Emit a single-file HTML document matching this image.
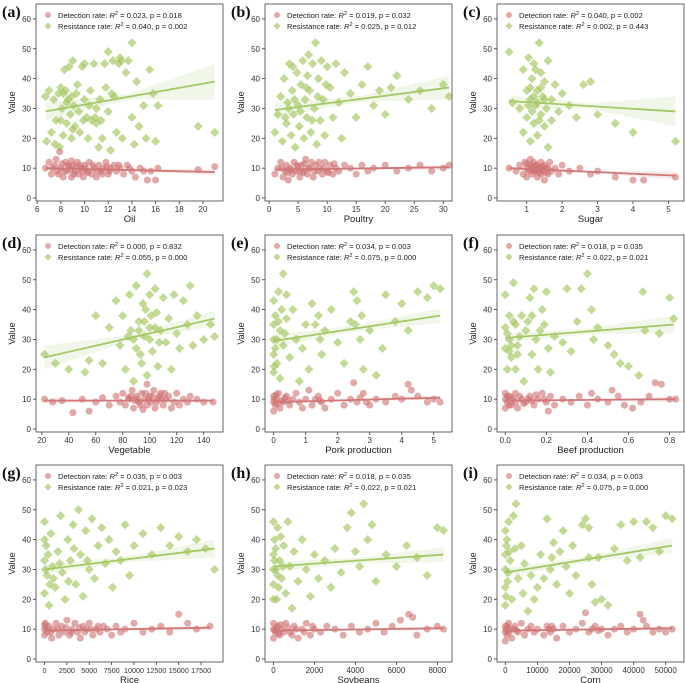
<!DOCTYPE html>
<html><head><meta charset="utf-8">
<style>
html,body{margin:0;padding:0;background:#fff;}
svg{display:block;font-family:"Liberation Sans",sans-serif;}
</style></head>
<body>
<svg id="chart" width="685" height="683" viewBox="0 0 685 683" xmlns="http://www.w3.org/2000/svg"></svg>
<script>
// ---- Data ----
const panelLetters = ["(a)","(b)","(c)","(d)","(e)","(f)","(g)","(h)","(i)"];
const xLabels = ["Oil","Poultry","Sugar","Vegetable","Pork production","Beef production","Rice","Soybeans","Corn"];
const xLims = [[5.9,21.7],[-0.7,31.5],[0.16,5.44],[15.7,154.3],[-0.27,5.57],[-0.04,0.87],[-950,19950],[-415,8715],[-2600,55700]];
const xTicks = [[6,8,10,12,14,16,18,20],[0,5,10,15,20,25,30],[1,2,3,4,5],[20,40,60,80,100,120,140],[0,1,2,3,4,5],[0,0.2,0.4,0.6,0.8],[0,2500,5000,7500,10000,12500,15000,17500],[0,2000,4000,6000,8000],[0,10000,20000,30000,40000,50000]];
const xTickLabels = [["6","8","10","12","14","16","18","20"],["0","5","10","15","20","25","30"],["1","2","3","4","5"],["20","40","60","80","100","120","140"],["0","1","2","3","4","5"],["0.0","0.2","0.4","0.6","0.8"],["0","2500","5000","7500","10000","12500","15000","17500"],["0","2000","4000","6000","8000"],["0","10000","20000","30000","40000","50000"]];
const yTicks = [0,10,20,30,40,50,60];
const detStats = [["0.023","0.018"],["0.019","0.032"],["0.040","0.002"],["0.000","0.832"],["0.034","0.003"],["0.018","0.035"],["0.035","0.003"],["0.018","0.035"],["0.034","0.003"]];
const resStats = [["0.040","0.002"],["0.025","0.012"],["0.002","0.443"],["0.055","0.000"],["0.075","0.000"],["0.022","0.021"],["0.021","0.023"],["0.022","0.021"],["0.075","0.000"]];
const detFit = [[10,8.7],[9.5,10.3],[10,7.5],[9.5,9.5],[9,10.5],[9.5,10],[9.5,10.5],[9.5,10.3],[9.5,10.3]];
const resFit = [[29,39],[29.5,37],[32.5,29],[24,37],[29.5,38],[30.5,35],[30,37],[31,35],[29,38]];
const detBand = [[0.6,0.3,1.0],[0.5,0.3,0.9],[0.6,0.3,1.4],[0.8,0.3,0.6],[0.5,0.3,0.7],[0.4,0.3,0.9],[0.4,0.3,0.9],[0.4,0.3,0.8],[0.4,0.3,0.7]];
const resBand = [[3,1,6],[2.5,1,4],[2,1,5],[4,1,2.5],[2,1,2.5],[1.5,1,3],[1.5,1,3],[1.5,1,2.5],[1.5,1,2.5]];

const detA = [[6.7,10],[7,12],[7.2,8],[7.5,11],[7.7,9],[7.9,15.5],[8,10],[8.2,7],[8.4,12],[8.5,9],[8.7,10.5],[8.9,7],[9,11],[9.2,9],[9.4,12],[9.5,8],[9.7,10],[9.9,7],[10,11],[10.2,9],[10.4,12],[10.6,8],[10.8,10],[11,7],[11.2,11],[11.4,9],[11.6,10],[11.8,12],[12,8],[12.2,10],[12.5,11],[12.7,9],[13,10],[13.3,8],[13.6,11],[14,9],[14.3,7],[14.7,10],[15,9],[15.3,6],[15.6,9],[16,6],[16.2,10],[19.6,9.5],[21,10.5],[8.3,9],[9.1,8],[10.1,10],[11.1,9],[8.6,11],[7.3,10],[7.8,8],[8.1,11.5],[8.8,9.5],[9.3,10.5],[9.6,11],[10.3,8.5],[10.7,11],[11.5,8],[12.1,9],[12.9,11],[13.8,10],[7.6,13],[8.9,12.5],[9.8,9],[11.9,10.5]];
const resA = [[6.7,34],[6.8,19],[7,36],[7.2,22],[7.4,33],[7.5,18],[7.6,26],[7.8,35],[7.9,17],[8,37],[8.1,30],[8.2,21],[8.3,43],[8.4,36],[8.5,25],[8.6,33],[8.7,44],[8.8,28],[8.9,20],[9,46],[9.1,31],[9.2,24],[9.3,35],[9.5,29],[9.6,22],[9.8,44],[10,45],[10,33],[10.2,27],[10.3,20],[10.5,36],[10.6,26],[10.8,45],[11,25],[11,30],[11.2,17],[11.3,33],[11.5,20],[11.7,45],[11.8,37],[12,49],[12,29],[12.2,16],[12.4,46],[12.5,34],[12.7,22],[12.9,45],[13,47],[13.2,20],[13.5,42],[13.7,46],[14,52],[14,27],[14.2,18],[14.4,39],[14.6,24],[15,31],[15.2,20],[15.5,43],[15.8,35],[16,19],[16.2,31],[19.6,24],[21,22],[8.2,35],[8.5,32],[8.9,34],[9.4,38],[9.9,26],[10.4,31],[10.9,27],[11.4,26],[12.3,35],[13.1,46],[8.0,26],[9.0,23]];
const detB = [[1,8],[1.5,10],[2,12],[2.4,7],[2.8,9],[3,11],[3.3,6],[3.6,10],[4,8],[4.3,12],[4.6,9],[5,10.5],[5.3,7],[5.6,11],[6,9],[6.3,13],[6.6,8],[7,10],[7.3,12],[7.6,7],[8,11],[8.4,9],[8.8,10],[9.2,8],[9.6,12],[10,9],[10.5,11],[11,8],[11.5,10],[12,9],[13,11],[14,10],[15,8],[16,11],[17,9],[18,10],[20,11],[22,9],[24,10],[26,11],[28,9],[30,10],[31,11],[2.2,10],[3.8,9.5],[4.8,11],[5.8,8.5],[6.8,10],[7.8,9],[8.6,12],[9.4,10],[10.2,8.5],[11.2,11.5],[3.2,8.5],[5.1,9],[6.1,11.5]];
const resB = [[1,22],[1.5,28],[2,34],[2.3,19],[2.6,40],[3,25],[3.2,32],[3.5,45],[3.8,21],[4,36],[4.2,28],[4.5,17],[4.8,42],[5,31],[5.2,24],[5.5,38],[5.8,46],[6,20],[6.2,33],[6.5,27],[6.8,48],[7,36],[7.2,22],[7.5,45],[7.8,30],[8,52],[8.2,18],[8.5,40],[8.8,26],[9,46],[9.3,33],[9.6,21],[10,44],[10.5,37],[11,27],[11.5,45],[12,32],[12.5,20],[13,42],[14,35],[15,27],[16,38],[17,44],[18,31],[19,36],[20,28],[21,37],[22,41],[24,33],[26,36],[28,30],[30,38],[31,34],[3.4,30],[4.4,33],[5.4,29],[6.4,37],[7.4,26],[8.4,34],[9.8,38],[4.1,44],[6.6,41],[2.8,27]];
const detC = [[0.5,10],[0.7,9],[0.8,11],[0.9,8],[0.95,12],[1,10],[1,7],[1.05,9],[1.1,11],[1.1,13],[1.15,8],[1.2,10],[1.2,12],[1.25,9],[1.3,7],[1.3,11],[1.35,10],[1.4,8],[1.4,12],[1.45,9],[1.5,11],[1.5,6],[1.55,10],[1.6,8],[1.65,12],[1.7,9],[1.8,10],[1.9,8],[2,11],[2.2,9],[2.5,10],[2.8,8],[3,9],[3.5,7],[4,6],[4.3,6],[5.2,7],[1.0,11.5],[1.15,10.5],[1.25,11],[1.35,8.5],[1.45,10.5],[1.55,8.5],[1.2,9],[1.3,9.5],[1.1,9.5],[1.4,10],[1.6,10]];
const resC = [[0.5,49],[0.6,32],[0.8,30],[0.9,43],[0.9,22],[1,36],[1,27],[1.05,47],[1.1,33],[1.1,19],[1.15,40],[1.2,25],[1.2,45],[1.25,31],[1.3,36],[1.3,21],[1.35,52],[1.4,28],[1.4,42],[1.45,34],[1.5,24],[1.5,39],[1.55,30],[1.6,46],[1.6,17],[1.7,33],[1.7,26],[1.8,38],[1.9,29],[2,35],[2.2,31],[2.4,27],[2.6,38],[2.8,39],[3,28],[3.5,25],[4,22],[5.2,19],[1.1,37],[1.2,34],[1.3,32],[1.4,37],[1.25,43],[1.15,29],[1.35,26],[1.5,33],[1.05,31]];
const detD = [[22,10],[28,9],[35,9.5],[43,5.5],[50,10],[55,6],[60,9],[65,10.5],[70,8],[75,11],[78,9],[80,12],[82,8],[85,10],[87,13],[88,7],[90,11],[92,9],[94,12],[95,6.5],[96,10],[98,15],[98,8],[100,11],[101,9],[103,13],[104,7],[106,10],[108,12],[110,8],[112,10],[114,11],[116,7],[118,9],[120,12],[122,8],[125,10],[128,9],[130,11],[135,10],[140,9],[147,9],[86,11],[91,10],[93,8],[97,12],[99,10],[102,11],[105,9],[107,11],[109,10],[111,12],[89,9.5],[84,10.5]];
const resD = [[22,25],[30,22],[40,20],[52,19],[55,23],[60,38],[65,22],[70,34],[75,43],[78,28],[80,38],[82,20],[85,45],[86,33],[88,16],[90,48],[90,27],[92,36],[94,22],[95,42],[96,31],[98,52],[98,18],[100,45],[100,34],[102,26],[104,47],[105,39],[106,21],[108,33],[110,44],[112,29],[114,37],[116,20],[118,45],[120,32],[122,27],[125,43],[128,35],[130,48],[132,28],[135,38],[140,30],[145,35],[148,31],[88,30],[92,33],[96,36],[100,30],[104,34],[93,25],[97,40],[101,38],[107,29],[84,31]];
const detE = [[0,6],[0,9],[0,11],[0.05,8],[0.1,10],[0.15,12],[0.2,7],[0.3,9],[0.4,11],[0.5,8],[0.6,10],[0.7,12],[0.8,9],[0.9,7],[1,10],[1.1,13],[1.2,8],[1.4,11],[1.5,9],[1.6,7],[1.8,10],[2,12],[2.2,8],[2.4,10],[2.5,15.5],[2.6,9],[2.8,12],[3,8],[3.2,10],[3.5,9],[3.8,11],[4,10],[4.2,15],[4.3,13],[4.5,11],[4.8,9],[5,10],[5.2,9],[0.02,10],[0.08,11.5],[0.25,9.5],[0.35,10.5],[1.3,10],[1.45,9.5],[2.7,10.5],[2.9,9],[0.12,8.5],[0.45,9.5]];
const resE = [[0,43],[0,35],[0,25],[0,19],[0.05,38],[0.1,30],[0.1,22],[0.15,46],[0.2,33],[0.2,17],[0.3,52],[0.3,28],[0.4,45],[0.4,37],[0.5,24],[0.6,40],[0.7,30],[0.8,16],[0.9,27],[1,35],[1.1,20],[1.2,42],[1.4,38],[1.5,25],[1.6,33],[1.8,40],[2,29],[2.2,22],[2.4,36],[2.5,46],[2.6,43],[2.7,30],[2.8,20],[3,33],[3.2,18],[3.4,27],[3.5,45],[3.8,36],[4,42],[4.2,33],[4.5,46],[4.8,44],[5,48],[5.2,47],[0,30],[0.05,27],[0.15,36],[0.25,40],[0.35,32],[1.3,35],[1.45,30],[2.55,35],[2.75,38],[0.02,21]];
const detF = [[0,7],[0,10],[0,12],[0.01,9],[0.02,11],[0.03,8],[0.04,10],[0.05,12],[0.06,7],[0.08,10],[0.1,9],[0.12,11],[0.14,8],[0.16,10],[0.18,12],[0.2,9],[0.21,6],[0.22,11],[0.24,8],[0.28,10],[0.32,9],[0.36,11],[0.4,8],[0.42,12],[0.45,10],[0.5,9],[0.52,13],[0.55,11],[0.58,8],[0.62,7],[0.66,9],[0.7,11],[0.73,15.5],[0.76,15],[0.8,10],[0.83,10],[0.01,11],[0.03,10.5],[0.05,9],[0.07,11],[0.09,8.5],[0.11,10],[0.13,9.5],[0.15,11.5],[0.19,10],[0.02,8]];
const resF = [[0,45],[0,34],[0,27],[0.01,20],[0.02,38],[0.02,30],[0.03,24],[0.04,49],[0.05,35],[0.05,20],[0.06,28],[0.08,38],[0.09,16],[0.1,33],[0.12,44],[0.13,25],[0.14,47],[0.15,30],[0.16,20],[0.18,40],[0.19,35],[0.2,46],[0.21,27],[0.22,19],[0.24,31],[0.28,29],[0.3,47],[0.32,26],[0.35,36],[0.37,47],[0.4,52],[0.42,40],[0.43,30],[0.45,34],[0.5,28],[0.53,25],[0.56,22],[0.6,21],[0.65,18],[0.67,46],[0.68,33],[0.75,32],[0.8,44],[0.82,37],[0.01,32],[0.03,28],[0.04,36],[0.06,25],[0.07,31],[0.11,36],[0.13,38],[0.17,33],[0.02,26]];
const detG = [[0,10],[0,8],[100,12],[300,9],[500,11],[800,7],[1000,10],[1300,12],[1600,8],[1900,11],[2200,9],[2500,13],[2800,8],[3100,10],[3400,12],[3700,9],[4000,7],[4300,11],[4700,10],[5000,12],[5400,8],[5800,10],[6200,9],[6600,11],[7000,10],[7500,8],[8000,11],[8500,9],[9000,10],[10000,12],[11000,9],[12000,10],[13000,11],[14000,9],[15000,15],[16000,12],[17000,10],[18500,11],[200,10.5],[700,9],[1500,10],[2400,10.5],[3000,9],[3900,10.5],[4500,9],[5200,10],[6000,11],[0,11.5]];
const resG = [[0,46],[0,33],[0,22],[200,38],[300,28],[500,18],[700,42],[900,31],[1200,24],[1500,36],[1800,48],[2000,29],[2300,20],[2600,40],[2900,33],[3200,45],[3500,25],[3800,50],[4000,35],[4300,21],[4600,43],[5000,30],[5300,47],[5600,27],[6000,38],[6400,44],[6800,32],[7200,40],[7600,24],[8000,36],[8500,33],[9000,45],[9500,28],[10000,38],[11000,42],[12000,35],[13000,44],[14000,38],[15000,41],[16000,36],[17000,40],[18000,37],[19000,30],[100,30],[400,35],[1000,27],[1700,32],[2700,26],[3300,37],[4800,33],[0,40],[600,25]];
const detH = [[0,7],[0,10],[0,12],[100,9],[200,11],[300,8],[400,10],[600,12],[800,9],[1000,11],[1200,7],[1400,10],[1600,12],[1800,8],[2000,10],[2300,9],[2600,11],[3000,10],[3400,8],[3800,11],[4200,9],[4600,10],[5000,12],[5400,9],[5800,11],[6200,13],[6600,15],[6800,14],[7000,8],[7500,10],[8000,11],[8300,10],[50,9.5],[150,10.5],[250,8.5],[350,11.5],[500,9],[700,10.5],[900,8],[1100,10],[1500,9],[1900,11]];
const resH = [[0,46],[0,35],[0,25],[50,40],[100,30],[150,20],[200,44],[300,33],[400,27],[500,38],[600,22],[700,46],[800,31],[900,17],[1000,36],[1200,26],[1400,40],[1600,30],[1800,21],[2000,35],[2200,27],[2500,33],[2800,24],[3000,37],[3300,29],[3600,44],[3800,49],[4000,36],[4200,31],[4400,52],[4600,40],[4800,45],[5000,26],[5500,35],[6000,31],[6500,38],[7000,34],[7500,28],[8000,44],[8300,43],[0,30],[50,33],[100,37],[200,28],[250,24],[350,41],[450,31],[0,20]];
const detI = [[0,6],[0,9],[0,11],[500,8],[1000,12],[1500,10],[2000,7],[3000,11],[4000,9],[5000,12],[6000,8],[7000,10],[8000,11],[9000,9],[10000,10],[12000,8],[13000,11],[14000,9],[15000,10],[16000,7],[18000,11],[20000,9],[22000,10],[24000,12],[25000,15.5],[26000,9],[28000,11],[30000,10],[32000,8],[34000,10],[36000,11],[38000,9],[40000,10],[42000,15],[43000,13],[44000,11],[46000,9],[48000,10],[50000,9],[52000,10],[200,10],[700,11],[1200,9],[2500,10],[3500,9.5],[13500,10],[14500,11],[27000,10],[29000,9.5]];
const resI = [[0,43],[0,35],[0,24],[0,18],[500,40],[800,29],[1000,46],[1500,33],[2000,20],[2500,48],[3000,37],[3300,52],[4000,27],[5000,38],[5500,22],[6000,32],[7000,16],[8000,28],[9000,20],[10000,24],[11000,35],[12000,27],[13000,47],[14000,30],[15000,39],[16000,25],[17000,36],[18000,43],[19000,31],[20000,22],[21000,38],[22000,28],[24000,45],[25000,47],[26000,34],[27000,25],[28000,19],[29000,34],[30000,20],[32000,18],[34000,37],[36000,45],[38000,33],[40000,46],[42000,34],[44000,46],[46000,44],[48000,36],[50000,48],[52000,47],[0,30],[200,21],[300,38],[700,26],[1200,36],[14500,34],[26000,44]];
const detSeries = [detA,detB,detC,detD,detE,detF,detG,detH,detI];
const resSeries = [resA,resB,resC,resD,resE,resF,resG,resH,resI];

// ---- Layout ----
const colLeft = [36,265,497];
const rowTop = [4,235,465];
const PW = 187, PH = 197, YMIN = -1, YMAX = 65;
const NS = "http://www.w3.org/2000/svg";
const svg = document.getElementById("chart");
const DET_FILL = "rgba(206,112,112,0.6)", RES_FILL = "rgba(163,198,95,0.65)";
const DET_LINE = "#d07878", RES_LINE = "#a4c866";

function mk(tag, attrs, parent){
  const e = document.createElementNS(NS, tag);
  for (const k in attrs) e.setAttribute(k, attrs[k]);
  (parent||svg).appendChild(e);
  return e;
}

for (let p = 0; p < 9; p++) {
  const L = colLeft[p%3], T = rowTop[Math.floor(p/3)];
  const [x0, x1] = xLims[p];
  const sx = v => L + (v - x0) / (x1 - x0) * PW;
  const sy = v => T + PH - (v - YMIN) / (YMAX - YMIN) * PH;
  const g = mk("g", {});
  
  

  const lt = mk("text", {x: L - 34, y: T + 13, "font-family": "Liberation Serif, serif", "font-weight": "bold", "font-size": "16", fill: "#111"}, g);
  lt.textContent = panelLetters[p];
  
  

  yTicks.forEach(v => {
    const y = sy(v);
    mk("line", {x1: L - 3, x2: L, y1: y, y2: y, stroke: "#333", "stroke-width": 0.8}, g);
    const t = mk("text", {x: L - 5, y: y + 3, "font-size": "8", "text-anchor": "end", fill: "#333"}, g);
    t.textContent = v;
    
    
  });
  const yl = mk("text", {x: 0, y: 0, "font-size": "9", "text-anchor": "middle", fill: "#222", transform: `translate(${L-21},${T+PH/2}) rotate(-90)`}, g);
  yl.textContent = "Value";
  
  

  xTicks[p].forEach((v, i) => {
    const x = sx(v);
    mk("line", {x1: x, x2: x, y1: T + PH, y2: T + PH + 3, stroke: "#333", "stroke-width": 0.8}, g);
    const t = mk("text", {x: x, y: T + PH + 11, "font-size": p === 6 ? "7.2" : "8", "text-anchor": "middle", fill: "#333"}, g);
    t.textContent = xTickLabels[p][i];
    
    
  });
  const xl = mk("text", {x: L + PW/2, y: T + PH + 21, "font-size": "9.5", "text-anchor": "middle", fill: "#222"}, g);
  xl.textContent = xLabels[p];
  
  

  const cid = "clip" + p;
  const cp = mk("clipPath", {id: cid}, g);
  mk("rect", {x: L, y: T, width: PW, height: PH}, cp);
  const plot = mk("g", {"clip-path": `url(#${cid})`}, g);

  resSeries[p].forEach(([vx, vy]) => {
    const cx = sx(vx), cy = sy(vy), r = 4.6;
    const d = mk("polygon", {points: `${cx},${cy-r} ${cx+r},${cy} ${cx},${cy+r} ${cx-r},${cy}`, fill: RES_FILL}, plot);
    
    
  });
  detSeries[p].forEach(([vx, vy]) => {
    const c = mk("circle", {cx: sx(vx), cy: sy(vy), r: 3.5, fill: DET_FILL}, plot);
    
    
  });

  function fit(series, fitv, band, col, name) {
    const xs = series.map(d => d[0]);
    const xa = Math.min(...xs), xb = Math.max(...xs), xm = (xa + xb) / 2;
    const ya = fitv[0], yb = fitv[1], ym = (ya + yb) / 2;
    const up = [[xa, ya + band[0]], [xm, ym + band[1]], [xb, yb + band[2]]];
    const dn = [[xb, yb - band[2]], [xm, ym - band[1]], [xa, ya - band[0]]];
    const pts = up.concat(dn).map(q => sx(q[0]) + "," + sy(q[1])).join(" ");
    const b = mk("polygon", {points: pts, fill: col, "fill-opacity": 0.15}, plot);
    
    
    const l = mk("line", {x1: sx(xa), y1: sy(ya), x2: sx(xb), y2: sy(yb), stroke: col, "stroke-width": 1.8}, plot);
    
    
  }
  fit(detSeries[p], detFit[p], detBand[p], DET_LINE, 'detection');
  fit(resSeries[p], resFit[p], resBand[p], RES_LINE, 'resistance');

  mk("rect", {x: L, y: T, width: PW, height: PH, fill: "none", stroke: "#555", "stroke-width": 0.9}, g);

  const lg = mk("g", {}, g);
  
  
  mk("circle", {cx: L + 12, cy: T + 11, r: 3, fill: DET_FILL}, lg);
  const r2 = 3.6, cx2 = L + 12, cy2 = T + 22;
  mk("polygon", {points: `${cx2},${cy2-r2} ${cx2+r2},${cy2} ${cx2},${cy2+r2} ${cx2-r2},${cy2}`, fill: RES_FILL}, lg);
  const t1 = mk("text", {x: L + 22, y: T + 14, "font-size": "7.6", fill: "#222"}, lg);
  t1.innerHTML = `Detection rate: <tspan font-style="italic">R</tspan><tspan dy="-3" font-size="5.5">2</tspan><tspan dy="3"> = ${detStats[p][0]}, p = ${detStats[p][1]}</tspan>`;
  
  
  const t2 = mk("text", {x: L + 22, y: T + 25, "font-size": "7.6", fill: "#222"}, lg);
  t2.innerHTML = `Resistance rate: <tspan font-style="italic">R</tspan><tspan dy="-3" font-size="5.5">2</tspan><tspan dy="3"> = ${resStats[p][0]}, p = ${resStats[p][1]}</tspan>`;
  
  
}
</script>
</body></html>
